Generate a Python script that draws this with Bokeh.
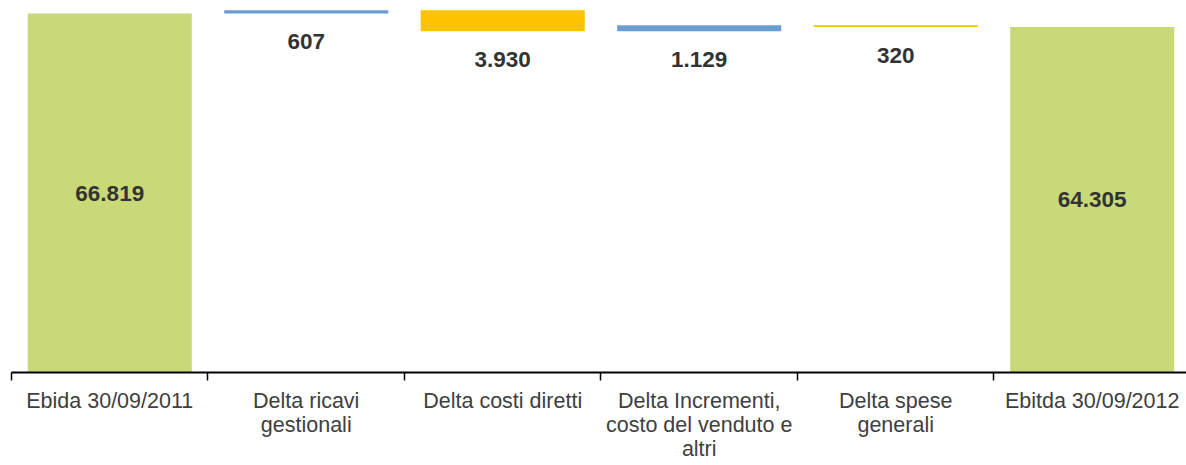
from bokeh.plotting import figure
from bokeh.models import ColumnDataSource, Range1d, FixedTicker
from bokeh.core.properties import value
from bokeh.embed import file_html
from bokeh.resources import INLINE

# ---- data ----
categories = [
    "Ebida 30/09/2011",
    "Delta ricavi\ngestionali",
    "Delta costi diretti",
    "Delta Incrementi,\ncosto del venduto e\naltri",
    "Delta spese\ngenerali",
    "Ebitda 30/09/2012",
]
values = [66819, 607, -3930, 1129, -320, 64305]
is_total = [True, False, False, False, False, True]

total_color = "#C9D978"
up_color = "#6C9DD2"
down_color = "#FDC300"

# ---- waterfall geometry from values ----
xs, bottoms, tops, colors, labels = [], [], [], [], []
running = 0
for i, (v, tot) in enumerate(zip(values, is_total)):
    xs.append(i + 0.5)
    if tot:
        b, t = 0, v
        running = v
        colors.append(total_color)
    else:
        b, t = running, running + v
        running = running + v
        colors.append(up_color if v > 0 else down_color)
    bottoms.append(min(b, t))
    tops.append(max(b, t))
    labels.append(f"{abs(v):,}".replace(",", "."))

src = ColumnDataSource(dict(x=xs, bottom=bottoms, top=tops, color=colors))

p = figure(
    width=1186, height=465,
    x_range=Range1d(0, 5.98), y_range=Range1d(0, 69240),
    output_backend="svg", toolbar_location=None,
    y_axis_location=None,
    min_border_left=11, min_border_right=0, min_border_top=0, min_border_bottom=93,
)
p.outline_line_color = None
p.grid.visible = False
p.background_fill_color = "white"
p.border_fill_color = "white"

p.vbar(x="x", bottom="bottom", top="top", width=0.835, color="color",
       line_color=None, source=src)

# labels for totals (centered in bar)
tx = [xs[i] for i in range(len(xs)) if is_total[i]]
ty = [(bottoms[i] + tops[i]) / 2 for i in range(len(xs)) if is_total[i]]
tl = [labels[i] for i in range(len(xs)) if is_total[i]]
p.text(x=tx, y=ty, text=tl, text_align="center", text_baseline="middle",
       text_font=value("Liberation Sans"), text_font_style="bold",
       text_font_size="22.5px", text_color="#333333")

# labels for deltas (below the bar)
dx = [xs[i] for i in range(len(xs)) if not is_total[i]]
dy = [bottoms[i] for i in range(len(xs)) if not is_total[i]]
dl = [labels[i] for i in range(len(xs)) if not is_total[i]]
p.text(x=dx, y=dy, text=dl, text_align="center", text_baseline="middle",
       y_offset=28,
       text_font=value("Liberation Sans"), text_font_style="bold",
       text_font_size="22.5px", text_color="#333333")

ax = p.xaxis[0]
ax.ticker = FixedTicker(ticks=xs, minor_ticks=[0, 1, 2, 3, 4, 5, 6])
ax.major_label_overrides = {x: c for x, c in zip(xs, categories)}
ax.major_tick_out = 0
ax.major_tick_in = 0
ax.minor_tick_out = 8
ax.minor_tick_in = 0
ax.minor_tick_line_color = "black"
ax.minor_tick_line_width = 1.5
ax.axis_line_color = "black"
ax.axis_line_width = 2
ax.major_label_standoff = 8
ax.major_label_text_font = "Liberation Sans"
ax.major_label_text_font_size = "21.5px"
ax.major_label_text_color = "#404040"
ax.major_label_text_line_height = 1.02

open("out.html", "w").write(file_html(p, INLINE))
